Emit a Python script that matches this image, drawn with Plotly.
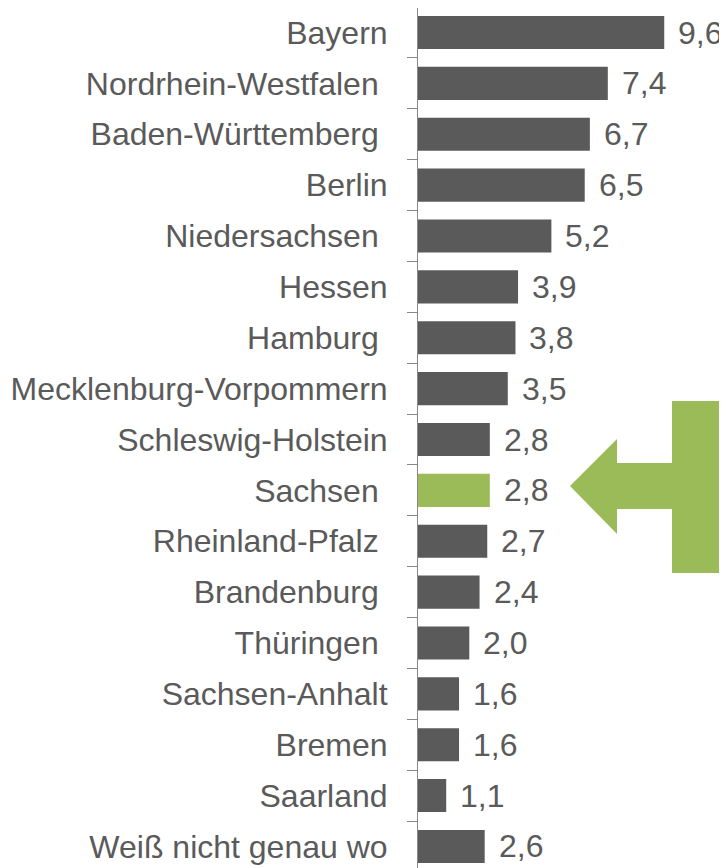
import plotly.graph_objects as go

# ---- data ----
categories = ["Bayern", "Nordrhein-Westfalen", "Baden-Württemberg", "Berlin",
              "Niedersachsen", "Hessen", "Hamburg", "Mecklenburg-Vorpommern",
              "Schleswig-Holstein", "Sachsen", "Rheinland-Pfalz", "Brandenburg",
              "Thüringen", "Sachsen-Anhalt", "Bremen", "Saarland",
              "Weiß nicht genau wo"]
values = [9.6, 7.4, 6.7, 6.5, 5.2, 3.9, 3.8, 3.5, 2.8, 2.8, 2.7, 2.4, 2.0, 1.6, 1.6, 1.1, 2.6]
# labels that carry a trailing space in the original
trailing_space = ["Nordrhein-Westfalen", "Baden-Württemberg", "Niedersachsen", "Hamburg",
                  "Sachsen", "Rheinland-Pfalz", "Brandenburg", "Thüringen"]
highlight = "Sachsen"
callout_lines = ["Gesamt", "Freistaat"]

# ---- styling ----
OFF = 8                      # page body margin of the html page
W, H = 727 - OFF, 868 - OFF  # visible figure size
ML, MR, MT, MB = 418 - OFF, 0, 0, 0
PW, PH = W - ML - MR, H - MT - MB
PX_PER_UNIT = 25.65
ROW = 50.87
TOP_PAGE = 7.1               # page y of the top category boundary
GRAY = "#5a5a5a"
GREEN = "#9bbb59"
FONT = "Liberation Sans, Arial, sans-serif"
FS = 32

tick_text = [c + ("\u00a0" if c in trailing_space else "") for c in categories]
colors = [GREEN if c == highlight else GRAY for c in categories]
idx = list(range(len(categories)))

fig = go.Figure()
fig.add_trace(go.Bar(
    x=values, y=idx, orientation="h",
    marker=dict(color=colors, line=dict(width=0)),
    hoverinfo="skip",
))

for i, v in zip(idx, values):
    fig.add_annotation(
        x=v, y=i, xref="x", yref="y",
        text=f"{v:.1f}".replace(".", ","),
        showarrow=False, xanchor="left", yanchor="middle", xshift=12,
        font=dict(family=FONT, size=FS, color=GRAY),
    )

def px2paper(px, py):
    return (px - OFF - ML) / PW, 1 - (py - OFF - MT) / PH

pts = [(570, 486), (617, 439), (617, 463), (672, 463), (672, 401), (800, 401),
       (800, 573), (672, 573), (672, 509), (617, 509), (617, 534)]
path = ""
for k, (a, b) in enumerate(pts):
    xp, yp = px2paper(a, b)
    path += ("M" if k == 0 else "L") + f"{xp:.5f},{yp:.5f} "
path += "Z"
fig.add_shape(type="path", path=path, xref="paper", yref="paper",
              fillcolor=GREEN, line=dict(width=0), layer="above")

for line, cy in zip(callout_lines, [440, 539]):
    xp, yp = px2paper(718, cy)
    fig.add_annotation(x=xp, y=yp, xref="paper", yref="paper", text=line,
                       showarrow=False, xanchor="left", yanchor="middle",
                       font=dict(family=FONT, size=FS, color="white"))

top = -0.5 + (OFF - TOP_PAGE) / ROW
bottom = top + PH / ROW
fig.update_layout(
    width=W, height=H,
    margin=dict(l=ML, r=MR, t=MT, b=MB, pad=0),
    paper_bgcolor="white", plot_bgcolor="white",
    showlegend=False, bargap=0.35,
    xaxis=dict(range=[0, PW / PX_PER_UNIT], visible=False, fixedrange=True),
    yaxis=dict(
        range=[bottom, top],
        tickmode="array", tickvals=idx, ticktext=tick_text,
        showline=True, linecolor="#888888", linewidth=1,
        ticks="outside", ticklen=0, tickcolor="#888888",
        showgrid=False, zeroline=False,
        ticklabelstandoff=23,
        tickfont=dict(family=FONT, size=FS, color=GRAY),
        minor=dict(tickvals=[i - 0.5 for i in idx] + [len(idx) - 0.5],
                   ticks="outside", ticklen=10, tickcolor="#888888"),
    ),
)
fig.write_html("out.html")
